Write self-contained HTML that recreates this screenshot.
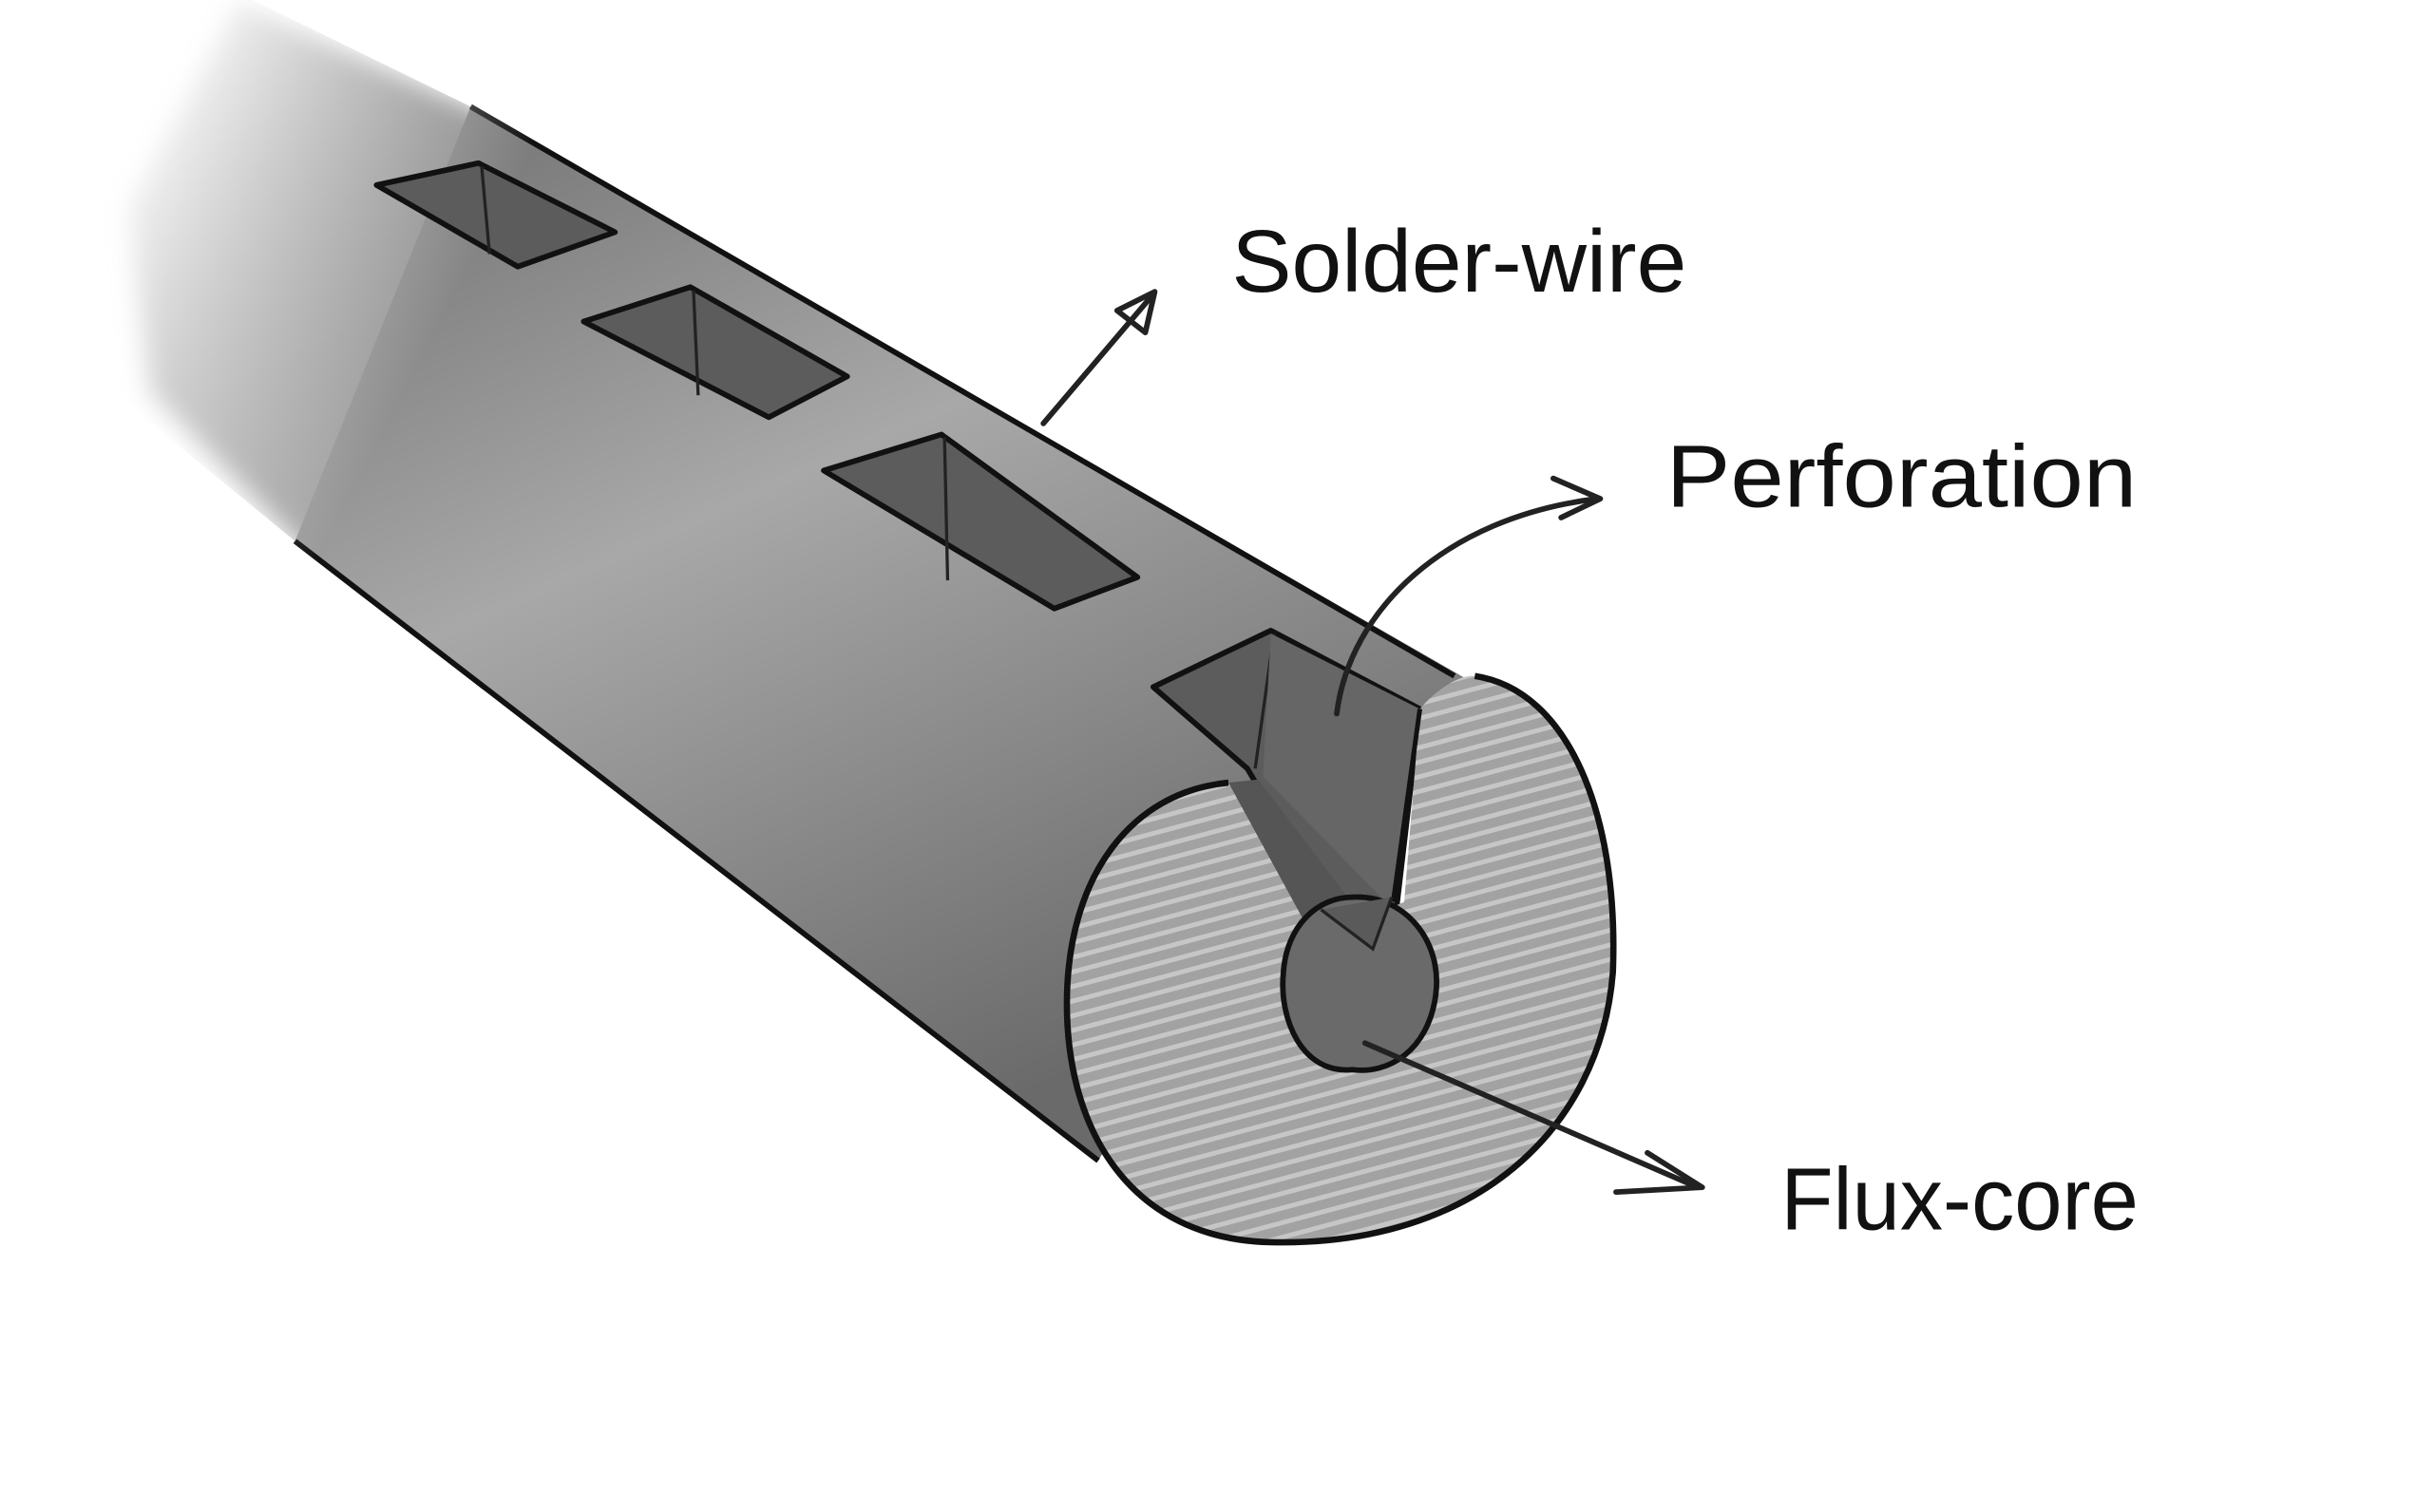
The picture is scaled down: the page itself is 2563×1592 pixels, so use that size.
<!DOCTYPE html>
<html><head><meta charset="utf-8"><style>html,body{margin:0;padding:0;background:#fff}svg{display:block}</style></head>
<body>
<svg width="2563" height="1592" viewBox="0 0 1552 964" preserveAspectRatio="none" xmlns="http://www.w3.org/2000/svg">
<defs>
<linearGradient id="sh" x1="0" y1="0" x2="0.5" y2="1">
<stop offset="0" stop-color="#6e6e6e"/>
<stop offset="0.45" stop-color="#a8a8a8"/>
<stop offset="1" stop-color="#6a6a6a"/>
</linearGradient>
<linearGradient id="fade" gradientUnits="userSpaceOnUse" x1="90" y1="60" x2="300" y2="170">
<stop offset="0" stop-color="#000"/>
<stop offset="1" stop-color="#fff"/>
</linearGradient>
<mask id="m"><rect width="1552" height="964" fill="url(#fade)"/></mask>
<filter id="bl" x="-10%" y="-10%" width="120%" height="120%"><feGaussianBlur stdDeviation="8"/></filter>
<clipPath id="cp"><path d="M120,-20 L300,68 L935,433 L830,520 L700,740 L188,345 L60,240 L40,0 Z"/></clipPath>
<pattern id="st" width="9" height="9" patternUnits="userSpaceOnUse" patternTransform="rotate(75)">
<rect width="9" height="9" fill="#a2a2a2"/><rect width="3" height="9" fill="#c6c6c6"/>
</pattern>
</defs>
<g mask="url(#m)">
<g clip-path="url(#cp)">
<path d="M150,0 L300,68 L935,433 L830,520 L700,740 L188,345 L95,250 L80,130 Z" fill="url(#sh)" filter="url(#bl)"/>
<path d="M300,68 L935,433 L830,520 L700,740 L188,345 Z" fill="url(#sh)"/>
</g>
<path d="M300,68 L927,431" stroke="#111" stroke-width="3.5" fill="none"/>
<path d="M188,345 L700,740" stroke="#111" stroke-width="3.5" fill="none"/>
</g>
<g fill="#5c5c5c" stroke="#111" stroke-width="3.5" stroke-linejoin="round">
<path d="M240,118 L305,104 L392,148 L330,170 Z"/>
<path d="M372,205 L440,183 L540,240 L490,266 Z"/>
<path d="M525,300 L600,277 L725,368 L672,388 Z"/>
<path d="M735,438 L810,402 L905,452 L890,580 L860,600 L795,490 Z"/>
</g>
<g stroke="#222" stroke-width="2"><path d="M307,106 L312,162"/><path d="M442,185 L445,252"/><path d="M602,279 L604,370"/><path d="M812,404 L800,490"/></g>
<path d="M810,404 L905,452 L888,580 L805,495 Z" fill="#666"/>
<path d="M940,431 C1000,440 1032,520 1028,620 C1020,720 940,795 810,792 C720,790 680,720 680,640 C680,560 720,505 783,499 L800,505 L860,590 L895,575 L905,452 C915,440 930,430 940,431 Z" fill="url(#st)" stroke="none"/>
<path d="M940,431 C1000,440 1032,520 1028,620 C1020,720 940,795 810,792 C720,790 680,720 680,640 C680,560 720,505 783,499" fill="none" stroke="#111" stroke-width="4"/>
<path d="M783,499 L802,497 L880,600 L860,640 Z" fill="#555"/>
<path d="M905,452 L888,575" stroke="#111" stroke-width="3" fill="none"/>
<path d="M862,572 C895,570 920,600 915,635 C910,670 885,685 862,682 C830,685 815,650 818,620 C820,590 840,572 862,572 Z" fill="#6a6a6a" stroke="#111" stroke-width="3.5"/>
<path d="M842,580 L875,605 L887,572" fill="#5a5a5a" stroke="#222" stroke-width="2"/>
<g stroke="#222" stroke-width="3.5" fill="none" stroke-linecap="round" stroke-linejoin="round">
<path d="M665,270 L733,190"/><path d="M712,198 L736,186 L730,212 Z"/>
<path d="M852,455 C860,390 920,330 1018,318"/><path d="M990,305 L1020,318 L995,330"/>
<path d="M870,665 L1082,757"/><path d="M1050,735 L1085,757 L1030,760"/>
</g>
<g font-family="'Liberation Sans', sans-serif" fill="#111" font-size="56">
<text x="785" y="186" textLength="290" lengthAdjust="spacingAndGlyphs">Solder-wire</text>
<text x="1062" y="323" textLength="300" lengthAdjust="spacingAndGlyphs">Perforation</text>
<text x="1135" y="784" textLength="228" lengthAdjust="spacingAndGlyphs">Flux-core</text>
</g>
</svg>
</body></html>
